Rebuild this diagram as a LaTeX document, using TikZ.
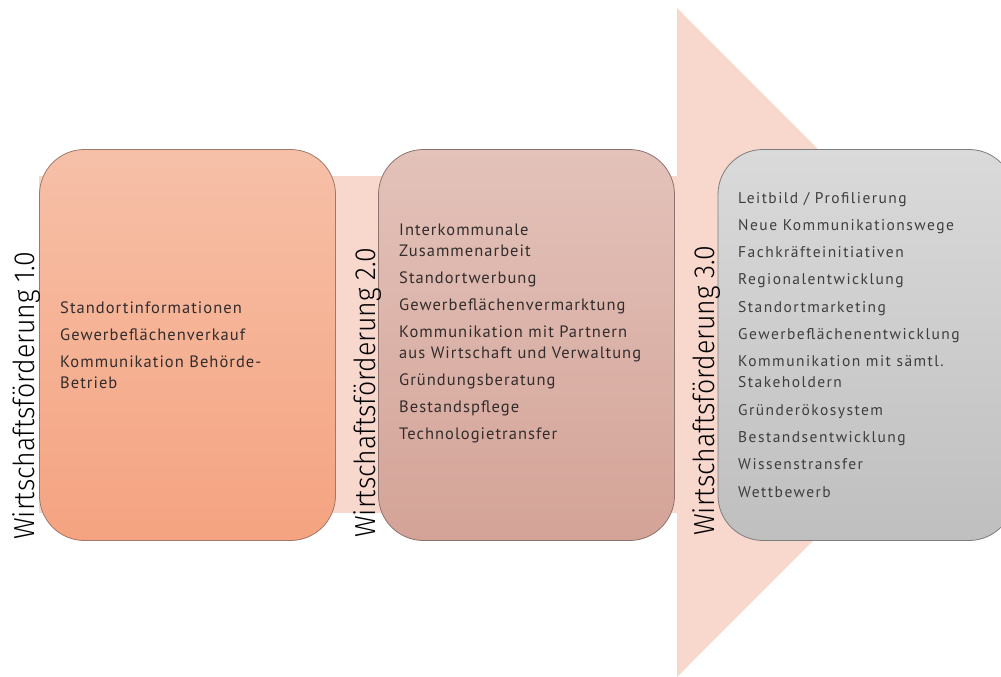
\documentclass[tikz,border=0pt]{standalone}
\usepackage{fontspec}
\setmainfont{PT Sans}
\newfontfamily\itemfont[LetterSpace=6.3]{PT Sans}
\newfontfamily\wideitemfont[LetterSpace=9.5]{PT Sans}
\newfontfamily\labfont[FakeStretch=0.92]{Fira Sans Light}
\definecolor{arrowpink}{RGB}{248,215,205}
\definecolor{oTop}{RGB}{246,192,168}
\definecolor{oBot}{RGB}{245,163,128}
\definecolor{oBrd}{RGB}{160,120,105}
\definecolor{rTop}{RGB}{227,194,186}
\definecolor{rBot}{RGB}{212,163,151}
\definecolor{rBrd}{RGB}{140,115,110}
\definecolor{gTop}{RGB}{218,218,218}
\definecolor{gBot}{RGB}{191,191,191}
\definecolor{gBrd}{RGB}{125,125,125}
\definecolor{txt}{RGB}{50,45,45}
\definecolor{txtg}{RGB}{62,62,62}
\tikzset{
  phasebox/.style={rectangle, rounded corners=45pt, minimum width=296pt, minimum height=391pt, line width=0.8pt, inner sep=0pt},
  items/.style={anchor=base west, align=left, inner sep=0pt, text=txt, font=\itemfont\fontsize{16.5}{21}\selectfont},
  phaselabel/.style={rotate=90, anchor=base west, inner sep=0pt, text=black, font=\labfont\fontsize{29}{30}\selectfont}
}
\begin{document}
\begin{tikzpicture}[x=1pt,y=-1pt]
\useasboundingbox (0,0) rectangle (1001,677);
\clip (0,0) rectangle (1001,677);
% big arrow
\fill[arrowpink] (39,176) rectangle (677.5,513);
\fill[arrowpink] (677,8) -- (1011,342.5) -- (677,677) -- cycle;
% boxes
\node[phasebox, draw=oBrd, top color=oTop, bottom color=oBot] (b1) at (187.5,345) {};
\node[phasebox, draw=rBrd, top color=rTop, bottom color=rBot] (b2) at (526.5,345) {};
\node[phasebox, draw=gBrd, top color=gTop, bottom color=gBot] (b3) at (866,345) {};
% labels
\node[phaselabel] (l1) at (34,540) {Wirtschaftsförderung 1.0};
\node[phaselabel] (l2) at (375,538) {Wirtschaftsförderung 2.0};
\node[phaselabel] (l3) at (714,536) {Wirtschaftsförderung 3.0};
% items (anchored at the baseline of the last line)
\node[items] (t1) at (60,388) {Standortinformationen\\[6pt]Gewerbeflächenverkauf\\[6pt]Kommunikation Behörde-\\Betrieb};
\node[items] (t2) at (399,439) {Interkommunale\\Zusammenarbeit\\[6pt]Standortwerbung\\[6pt]Gewerbeflächenvermarktung\\[6pt]Kommunikation mit Partnern\\aus Wirtschaft und Verwaltung\\[6pt]Gründungsberatung\\[6pt]Bestandspflege\\[6pt]Technologietransfer};
\node[items, text=txtg, font=\wideitemfont\fontsize{15.5}{21}\selectfont] (t3) at (738,497) {Leitbild / Profilierung\\[6.3pt]Neue Kommunikationswege\\[6.3pt]Fachkräfteinitiativen\\[6.3pt]Regionalentwicklung\\[6.3pt]Standortmarketing\\[6.3pt]Gewerbeflächenentwicklung\\[6.3pt]Kommunikation mit sämtl.\\Stakeholdern\\[6.3pt]Gründerökosystem\\[6.3pt]Bestandsentwicklung\\[6.3pt]Wissenstransfer\\[6.3pt]Wettbewerb};
\end{tikzpicture}
\end{document}
